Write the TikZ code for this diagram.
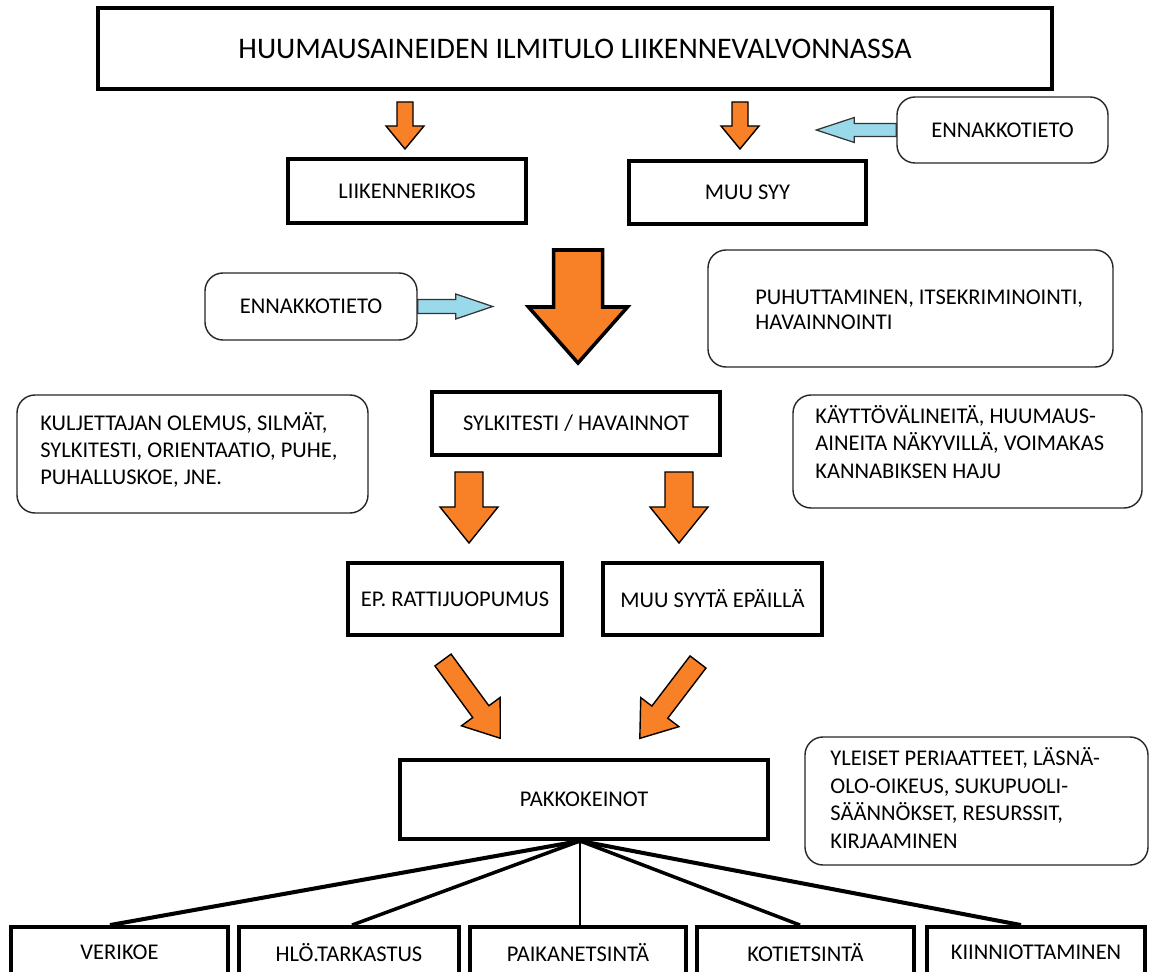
\documentclass[tikz,border=0pt]{standalone}
\usepackage{fontspec}
\setmainfont{Carlito}
\newcommand\pxu{0.02cm}
\definecolor{orng}{RGB}{248,128,38}
\definecolor{lblue}{RGB}{153,217,234}
\begin{document}
\begin{tikzpicture}[x=0.02cm,y=-0.02cm,
  txt/.style={font=\fontsize{12.8}{15.6}\selectfont},
  sqbox/.style={draw=black, line width=2.2pt, fill=white, inner sep=0pt, txt},
  softbox/.style={draw=black!85, line width=0.8pt, rounded corners=0.36cm, inner sep=0pt},
  boxtext/.style={anchor=west, inner sep=0pt, align=left, txt},
  link/.style={line width=2.2pt},
  orangearrow/.style={fill=orng, draw=black, line width=0.8pt, line join=miter},
  bluearrow/.style={fill=lblue, draw=black!80, line width=0.7pt, line join=miter},
  pics/barrow/.style n args={4}{code={%
    \path[pic actions] (0,-#3) -- ({#1-#2},-#3) -- ({#1-#2},-#4) -- (#1,0)
      -- ({#1-#2},#4) -- ({#1-#2},#3) -- (0,#3) -- cycle;}}
]
\useasboundingbox (0,0) rectangle (1152,972);
\fill[white] (0,0) rectangle (1152,972);
\clip (0,0) rectangle (1152,972);

% title
\node[sqbox, line width=2.4pt, minimum width={954*\pxu}, minimum height={81*\pxu},
      font=\fontsize{17}{20}\selectfont] (title) at (575,48.5)
  {HUUMAUSAINEIDEN ILMITULO LIIKENNEVALVONNASSA};

% second row
\node[sqbox, minimum width={238*\pxu}, minimum height={64*\pxu}] (lik) at (407,191) {LIIKENNERIKOS};
\node[sqbox, minimum width={237*\pxu}, minimum height={63*\pxu}] (muu) at (747.5,192.5) {MUU SYY};
\node[softbox, minimum width={211*\pxu}, minimum height={66*\pxu}, txt] (enn1) at (1002.5,130) {ENNAKKOTIETO};

\pic[orangearrow, rotate=-90] at (405,102) {barrow={47}{23}{8}{19}};
\pic[orangearrow, rotate=-90] at (740,102) {barrow={47}{23}{8}{19}};
\pic[bluearrow, rotate=180] at (enn1.west) {barrow={80}{38}{6.5}{12.5}};

% third row
\node[softbox, minimum width={212*\pxu}, minimum height={67*\pxu}, txt] (enn2) at (311,306.5) {ENNAKKOTIETO};
\pic[bluearrow] at (enn2.east) {barrow={75}{37}{7}{12.5}};
\pic[orangearrow, line width=2pt, rotate=-90] at (578,250) {barrow={113}{56}{24.5}{49.5}};

\node[softbox, minimum width={405*\pxu}, minimum height={117*\pxu}] (puh) at (910.5,308.5) {};
\node[boxtext, font=\fontsize{12.8}{14.4}\selectfont] (puht) at (755,309.5)
  {PUHUTTAMINEN, ITSEKRIMINOINTI,\\HAVAINNOINTI};

% fourth row
\node[sqbox, minimum width={288*\pxu}, minimum height={63*\pxu}] (syl) at (576,423.5) {SYLKITESTI / HAVAINNOT};

\node[softbox, minimum width={351*\pxu}, minimum height={118*\pxu}] (kul) at (192.5,454) {};
\node[boxtext] (kult) at (40,450)
  {KULJETTAJAN OLEMUS, SILMÄT,\\SYLKITESTI, ORIENTAATIO, PUHE,\\PUHALLUSKOE, JNE.};

\node[softbox, minimum width={349*\pxu}, minimum height={113*\pxu}] (kay) at (967.5,451.5) {};
\node[boxtext] (kayt) at (815,442)
  {KÄYTTÖVÄLINEITÄ, HUUMAUS-\\AINEITA NÄKYVILLÄ, VOIMAKAS\\KANNABIKSEN HAJU};

\pic[orangearrow, rotate=-90] at (469,472) {barrow={71}{36}{14}{29}};
\pic[orangearrow, rotate=-90] at (679,472) {barrow={71}{36}{14}{29}};

% fifth row
\node[sqbox, minimum width={214*\pxu}, minimum height={72*\pxu}] (ep) at (455,599) {EP. RATTIJUOPUMUS};
\node[sqbox, minimum width={219*\pxu}, minimum height={72*\pxu}] (mse) at (712.5,599) {MUU SYYTÄ EPÄILLÄ};

\pic[orangearrow, rotate=-53.8] at (443,660) {barrow={97}{33}{10}{24}};
\pic[orangearrow, rotate=-127.3] at (698,662) {barrow={96}{33}{10}{24}};

% sixth row
\node[sqbox, minimum width={368*\pxu}, minimum height={79*\pxu}] (pak) at (584,799.5) {PAKKOKEINOT};
\node[softbox, minimum width={343*\pxu}, minimum height={128*\pxu}] (yle) at (976.5,801) {};
\node[boxtext] (ylet) at (830,798)
  {YLEISET PERIAATTEET, LÄSNÄ-\\OLO-OIKEUS, SUKUPUOLI-\\SÄÄNNÖKSET, RESURSSIT,\\KIRJAAMINEN};

% bottom row
\node[sqbox, minimum width={217*\pxu}, minimum height={51*\pxu}] (ver) at (119.5,952.5) {VERIKOE};
\node[sqbox, minimum width={220*\pxu}, minimum height={51*\pxu}] (hlo) at (349,952.5) {HLÖ.TARKASTUS};
\node[sqbox, minimum width={216*\pxu}, minimum height={51*\pxu}] (pai) at (578,952.5) {PAIKANETSINTÄ};
\node[sqbox, minimum width={217*\pxu}, minimum height={51*\pxu}] (kot) at (805.5,952.5) {KOTIETSINTÄ};
\node[sqbox, minimum width={218*\pxu}, minimum height={51*\pxu}] (kii) at (1036,952.5) {KIINNIOTTAMINEN};

\coordinate (hub) at ([xshift={-4*\pxu}]pak.south);
\draw[link, line width=2.3pt] (hub) -- ([xshift={-9.5*\pxu}]ver.north);
\draw[link, line width=2pt] (hub) -- ([xshift={3*\pxu}]hlo.north);
\draw[link, line width=1.3pt] (hub) -- ([xshift={2*\pxu}]pai.north);
\draw[link, line width=2pt] (hub) -- ([xshift={-5.5*\pxu}]kot.north);
\draw[link, line width=2.3pt] (hub) -- ([xshift={-15*\pxu}]kii.north);
\end{tikzpicture}
\end{document}
